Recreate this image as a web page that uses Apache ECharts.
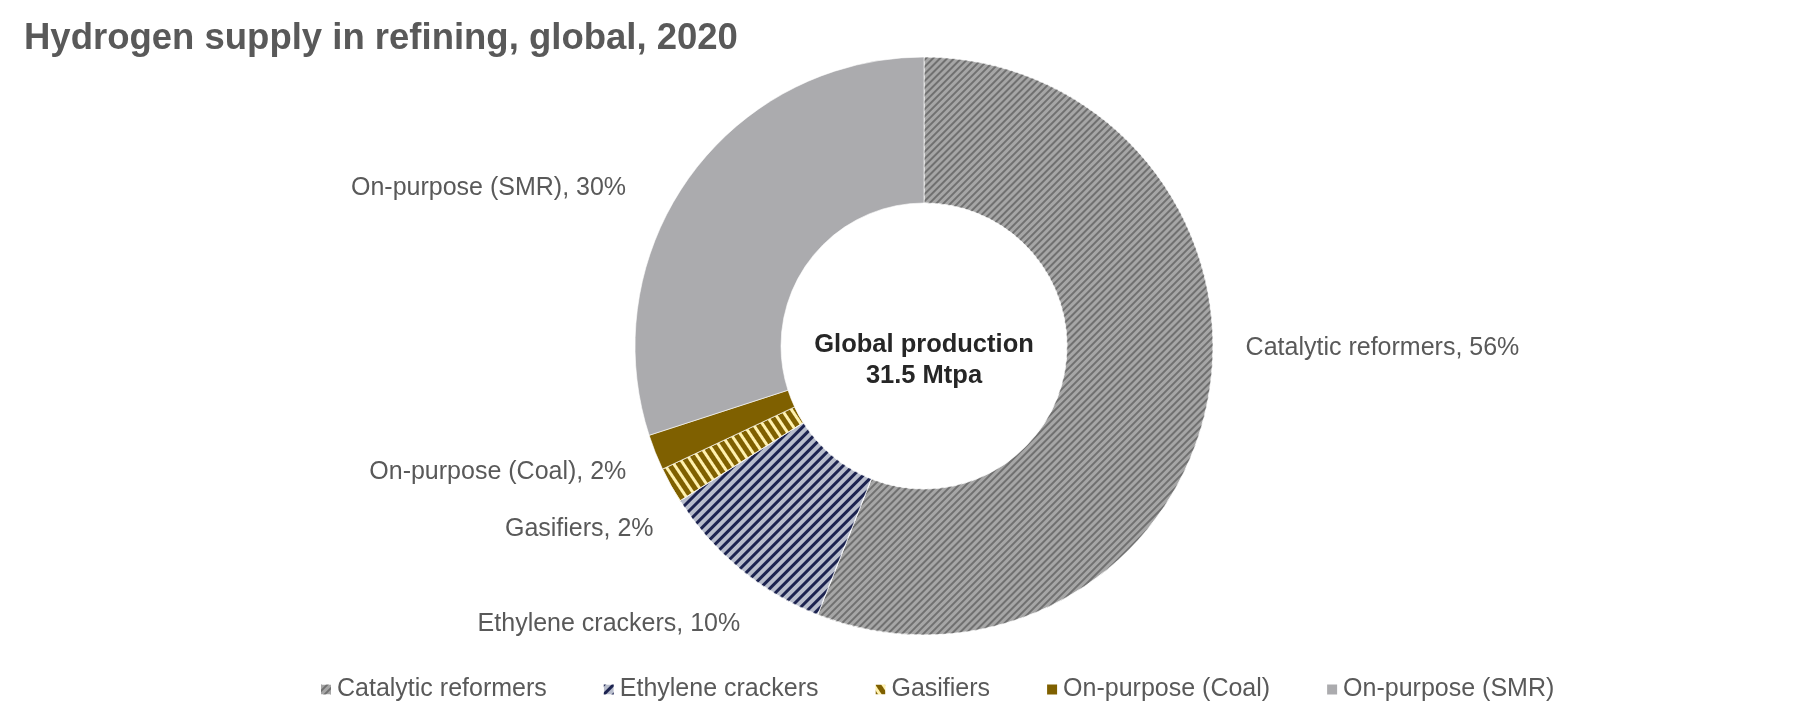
<!DOCTYPE html>
<html>
<head>
<meta charset="utf-8">
<script src="https://cdn.jsdelivr.net/npm/echarts@6/dist/echarts.min.js"></script>
<style>
  html, body { margin: 0; padding: 0; background: #fff; }
  #chart { width: 1800px; height: 709px; }
</style>
</head>
<body>
<div id="chart"></div>
<script>
var chartDom = document.getElementById('chart');
var myChart = echarts.init(chartDom);

// shares of refinery hydrogen supply (%), 2020
const sources = ['Catalytic reformers', 'Ethylene crackers', 'Gasifiers', 'On-purpose (Coal)', 'On-purpose (SMR)'];
const shares = [56, 10, 2, 2, 30];
const centerLines = ['Global production', '31.5 Mtpa'];

const FONT = 'Arial, "Liberation Sans", sans-serif';

const styles = [
  { color: '#A6A6A6', decal: { color: '#707070', dashArrayY: [2, 3], rotation: -Math.PI / 4 } },
  { color: '#B8BDCC', decal: { color: '#1C2350', dashArrayY: [3, 4], rotation: -Math.PI / 4 } },
  { color: '#7F6000', decal: { color: '#FFF1AE', dashArrayY: [3, 5], rotation: Math.PI / 3.2 } },
  { color: '#7F6000' },
  { color: '#ABABAE' }
];
// small label shifts to sit like the original layout
const labelNudge = [[3, -55], [30, 44], [16, 37], [5, 14], [-32, 21]];

const pieData = sources.map((name, i) => {
  const st = styles[i];
  const itemStyle = { color: st.color };
  if (st.decal) {
    itemStyle.decal = Object.assign({ symbol: 'rect', symbolSize: 1, dashArrayX: [1, 0] }, st.decal);
  }
  return { name: name, value: shares[i], itemStyle: itemStyle };
});

var option = {
  animation: false,
  title: {
    text: 'Hydrogen supply in refining, global, 2020',
    left: 19,
    top: 15,
    textStyle: { fontFamily: FONT, fontSize: 36.5, fontWeight: 'bold', color: '#595959' }
  },
  legend: {
    bottom: 2,
    left: 314,
    itemWidth: 12,
    itemHeight: 12,
    itemGap: 55,
    icon: 'rect',
    textStyle: { fontFamily: FONT, fontSize: 25, color: '#595959' },
    data: sources
  },
  graphic: [{
    type: 'text',
    x: 924,
    y: 360,
    style: {
      text: centerLines.join('\n'),
      font: 'bold 25.5px ' + FONT,
      fill: '#262626',
      align: 'center',
      verticalAlign: 'middle',
      lineHeight: 31
    }
  }],
  series: [{
    type: 'pie',
    center: [924, 346],
    radius: [143, 289],
    startAngle: 90,
    clockwise: true,
    avoidLabelOverlap: false,
    itemStyle: { borderColor: '#fff', borderWidth: 0.6 },
    label: {
      show: true,
      position: 'outside',
      formatter: '{b}, {c}%',
      fontFamily: FONT,
      fontSize: 25,
      color: '#595959'
    },
    labelLine: { show: false, length: 15, length2: 15 },
    labelLayout: function (params) {
      const n = labelNudge[params.dataIndex];
      return { dx: n[0], dy: n[1] };
    },
    data: pieData
  }]
};

myChart.setOption(option);
</script>
</body>
</html>
